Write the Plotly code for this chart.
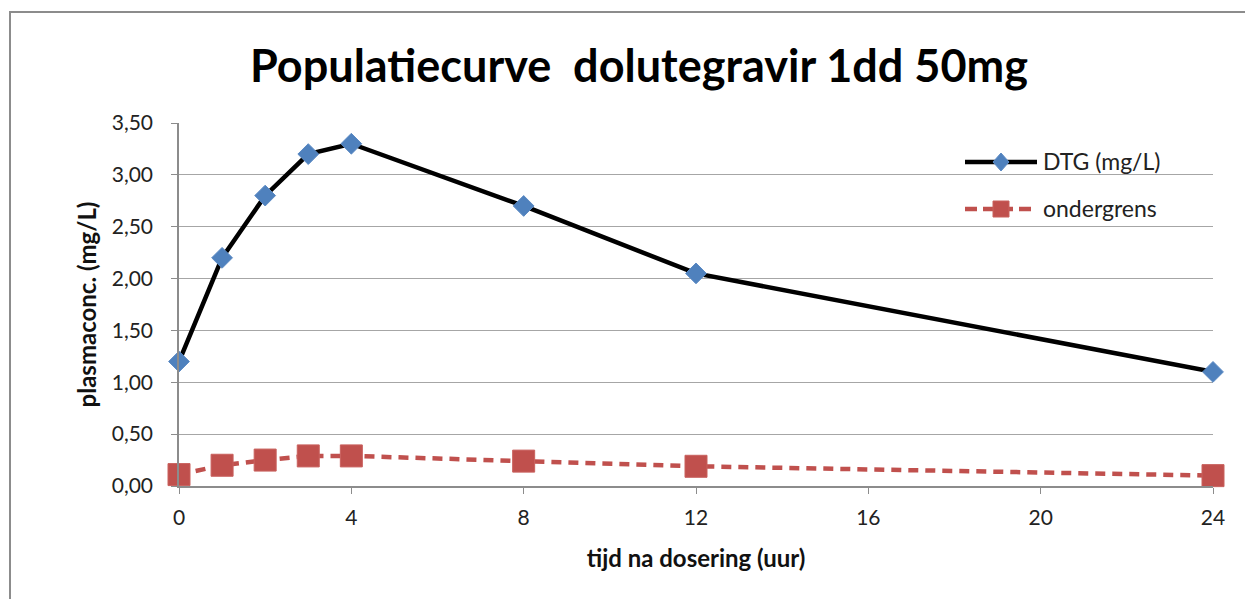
import plotly.graph_objects as go

hours = [0, 1, 2, 3, 4, 8, 12, 24]
dtg = [1.20, 2.20, 2.80, 3.20, 3.30, 2.70, 2.05, 1.10]
ondergrens = [0.11, 0.20, 0.25, 0.29, 0.29, 0.24, 0.19, 0.10]
x_ticks = [0, 4, 8, 12, 16, 20, 24]
y_ticks = [0, 0.5, 1.0, 1.5, 2.0, 2.5, 3.0, 3.5]
series_names = ["DTG (mg/L)", "ondergrens"]

FONT = "Lato"
OFF = 8  # page body margin
W, H = 1253 - OFF, 599 - OFF
L, R, T, B = 179 - OFF, 1253 - 1213, 123 - OFF, 599 - 486
pw, ph = W - L - R, H - T - B

BLUE = "#4F81BD"
RED = "#C0504D"


def px2x(p):
    return (p - OFF - L) / pw


def py2y(p):
    return 1 - (p - OFF - T) / ph


fig = go.Figure()
fig.add_trace(go.Scatter(
    x=hours, y=dtg, name=series_names[0], mode="lines+markers",
    line=dict(color="black", width=4.5),
    marker=dict(symbol="diamond", size=16, color=BLUE,
                line=dict(color="#5B8AC4", width=1)),
    cliponaxis=False, showlegend=False))
fig.add_trace(go.Scatter(
    x=hours, y=ondergrens, name=series_names[1], mode="lines+markers",
    line=dict(color=RED, width=4.5, dash="10px,7px"),
    marker=dict(symbol="square", size=22, color=RED,
                line=dict(color="#C9605D", width=1)),
    cliponaxis=False, showlegend=False))

shapes = [
    dict(type="rect", xref="paper", yref="paper",
         x0=px2x(10), x1=px2x(1275), y0=py2y(625), y1=py2y(12),
         line=dict(color="#8c8c8c", width=2), layer="below"),
    # legend background
    dict(type="rect", xref="paper", yref="paper",
         x0=px2x(935), x1=px2x(1196), y0=py2y(226), y1=py2y(138),
         fillcolor="white", line=dict(width=0), layer="between"),
    # legend item 1
    dict(type="line", xref="paper", yref="paper",
         x0=px2x(965), x1=px2x(1037), y0=py2y(162), y1=py2y(162),
         line=dict(color="black", width=4.5)),
    dict(type="path", xref="paper", yref="paper",
         xsizemode="pixel", ysizemode="pixel",
         xanchor=px2x(1001), yanchor=py2y(162),
         path="M -8,0 L 0,9 L 8,0 L 0,-9 Z",
         fillcolor=BLUE, line=dict(color="#5B8AC4", width=1)),
    # legend item 2
    dict(type="line", xref="paper", yref="paper",
         x0=px2x(965), x1=px2x(1037), y0=py2y(209), y1=py2y(209),
         line=dict(color=RED, width=4.5, dash="12px,6px")),
    dict(type="rect", xref="paper", yref="paper",
         xsizemode="pixel", ysizemode="pixel",
         xanchor=px2x(1001), yanchor=py2y(209),
         x0=-8, x1=8, y0=-8, y1=8,
         fillcolor=RED, line=dict(color="#C9605D", width=1)),
]

annotations = [
    dict(text=series_names[0], xref="paper", yref="paper",
         x=px2x(1041), y=py2y(161), xanchor="left", yanchor="middle",
         showarrow=False, font=dict(family=FONT, size=23, color="#222")),
    dict(text=series_names[1], xref="paper", yref="paper",
         x=px2x(1041), y=py2y(208), xanchor="left", yanchor="middle",
         showarrow=False, font=dict(family=FONT, size=23, color="#222")),
]

fig.update_layout(
    width=W, height=H,
    margin=dict(l=L, r=R, t=T, b=B),
    paper_bgcolor="white", plot_bgcolor="white",
    separators=",.",
    font=dict(family=FONT, size=21, color="#222"),
    title=dict(text="<b>Populatiecurve  dolutegravir 1dd 50mg</b>",
               x=(639 - OFF) / W, xanchor="center",
               y=1 - (66 - OFF) / H, yanchor="middle",
               font=dict(family=FONT, size=45, color="black")),
    showlegend=False,
    xaxis=dict(range=[0, 24], tickvals=x_ticks, ticks="outside", ticklen=6,
               tickcolor="#8c8c8c", showgrid=False, showline=True,
               linecolor="#8c8c8c", linewidth=1.5, zeroline=False,
               ticklabelstandoff=6,
               tickfont=dict(size=21, color="#222"),
               title=dict(text="<b>tijd na dosering (uur)</b>", standoff=22,
                          font=dict(size=24, color="#111"))),
    yaxis=dict(range=[0, 3.5], tickvals=y_ticks, tickformat=".2f",
               ticks="outside", ticklen=6, tickcolor="#8c8c8c",
               showgrid=True, gridcolor="#a6a6a6", gridwidth=1.2,
               showline=True, linecolor="#8c8c8c", linewidth=1.5,
               zeroline=False, ticklabelstandoff=14,
               tickfont=dict(size=21, color="#222"),
               title=dict(text="<b>plasmaconc. (mg/L)</b>", standoff=8,
                          font=dict(size=24, color="#111"))),
    shapes=shapes,
    annotations=annotations,
)

fig.write_html("out.html")
